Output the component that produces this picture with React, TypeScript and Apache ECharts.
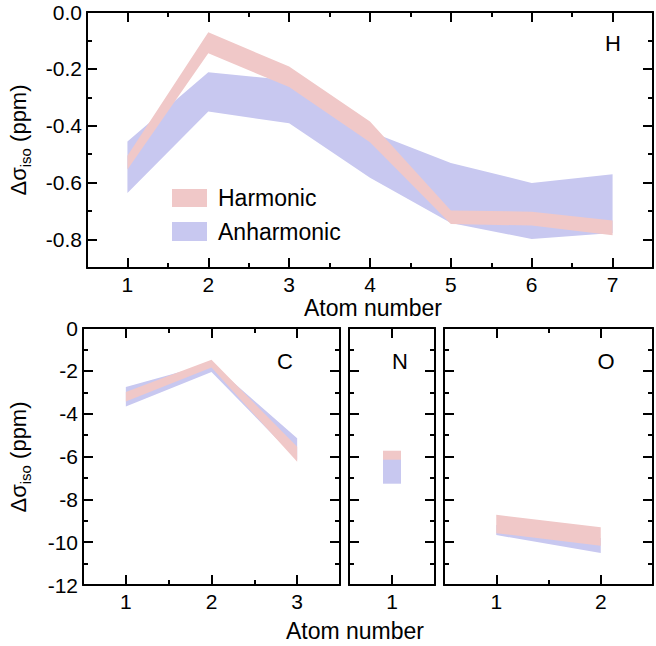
import React, { useEffect, useRef } from "react";
import * as echarts from "echarts";

// ---- data ----
const hAtoms = [1, 2, 3, 4, 5, 6, 7];
const hHarmHi = [-0.505, -0.071, -0.192, -0.385, -0.698, -0.702, -0.733];
const hHarmLo = [-0.554, -0.145, -0.264, -0.458, -0.745, -0.751, -0.785];
const hAnhHi = [-0.455, -0.212, -0.24, -0.42, -0.531, -0.601, -0.57];
const hAnhLo = [-0.636, -0.35, -0.391, -0.583, -0.742, -0.798, -0.777];

const cAtoms = [1, 2, 3];
const cHarmHi = [-2.99, -1.48, -5.55];
const cHarmLo = [-3.43, -1.85, -6.25];
const cAnhHi = [-2.76, -1.65, -5.15];
const cAnhLo = [-3.66, -2.05, -6.15];

const nAtoms = [1];
const nHarmHi = [-5.73];
const nHarmLo = [-6.15];
const nAnhHi = [-6.0];
const nAnhLo = [-7.27];

const oAtoms = [1, 2];
const oHarmHi = [-8.72, -9.3];
const oHarmLo = [-9.58, -10.17];
const oAnhHi = [-9.2, -9.8];
const oAnhLo = [-9.67, -10.51];

const seriesNames = ["Harmonic", "Anharmonic"];
const panelLabels = ["H", "C", "N", "O"];
const xTitle = "Atom number";

// ---- styles ----
const PINK = "#f0c8c8";
const BLUE = "#c8c8f0";
const FONT = '"Liberation Sans", Arial, sans-serif';
const SINGLE_HALF_WIDTH = 0.105;

function bandSeries(
  name: string,
  xs: number[],
  lo: number[],
  hi: number[],
  color: string,
  idx: number
) {
  return {
    type: "custom",
    name,
    xAxisIndex: idx * 2,
    yAxisIndex: idx * 2,
    clip: true,
    silent: true,
    data: xs.map((x, i) => [x, lo[i], hi[i]]),
    encode: { x: 0, y: [1, 2] },
    renderItem: (params: any, api: any) => {
      if (params.dataIndexInside !== 0) return null;
      let pts: number[][];
      if (xs.length === 1) {
        const x = xs[0];
        pts = [
          [x - SINGLE_HALF_WIDTH, hi[0]],
          [x + SINGLE_HALF_WIDTH, hi[0]],
          [x + SINGLE_HALF_WIDTH, lo[0]],
          [x - SINGLE_HALF_WIDTH, lo[0]],
        ].map((p) => api.coord(p));
      } else {
        const up = xs.map((x, i) => api.coord([x, hi[i]]));
        const dn = xs.map((x, i) => api.coord([x, lo[i]])).reverse();
        pts = up.concat(dn);
      }
      return {
        type: "polygon",
        shape: { points: pts },
        style: { fill: color },
      };
    },
  };
}

const lineStyle = { color: "#000", width: 2 };

function xAxes(gridIndex: number, min: number, max: number, split: number, minor: boolean) {
  const base = {
    type: "value",
    gridIndex,
    min,
    max,
    splitNumber: split,
    axisLine: { show: true, onZero: false, lineStyle },
    axisTick: { show: true, inside: true, length: 10, lineStyle },
    minorTick: { show: minor, splitNumber: 2, length: 5, lineStyle },
    splitLine: { show: false },
    minorSplitLine: { show: false },
  };
  return [
    {
      ...base,
      position: "bottom",
      axisLabel: {
        show: true,
        color: "#000",
        fontSize: 21,
        fontFamily: FONT,
        margin: 6,
        formatter: (v: number) => (Math.abs(v - Math.round(v)) < 1e-9 ? String(Math.round(v)) : ""),
      },
    },
    { ...base, position: "top", axisLabel: { show: false } },
  ];
}

function yAxes(
  gridIndex: number,
  min: number,
  max: number,
  split: number,
  labels: boolean,
  fmt: (v: number) => string
) {
  const base = {
    type: "value",
    gridIndex,
    min,
    max,
    splitNumber: split,
    axisLine: { show: true, onZero: false, lineStyle },
    axisTick: { show: true, inside: true, length: 10, lineStyle },
    minorTick: { show: true, splitNumber: 2, length: 5, lineStyle },
    splitLine: { show: false },
    minorSplitLine: { show: false },
  };
  return [
    {
      ...base,
      position: "left",
      axisLabel: {
        show: labels,
        color: "#000",
        fontSize: 21,
        fontFamily: FONT,
        margin: 5,
        formatter: fmt,
      },
    },
    { ...base, position: "right", axisLabel: { show: false } },
  ];
}

const fmtTop = (v: number) => {
  const k = Math.round(v / 0.2);
  return Math.abs(v - k * 0.2) < 1e-6 ? (Math.abs(v) < 1e-9 ? "0.0" : v.toFixed(1)) : "";
};
const fmtBottom = (v: number) => {
  const k = Math.round(v / 2);
  return Math.abs(v - k * 2) < 1e-6 ? String(Math.round(v)) : "";
};

function yTitle(x: number, y: number) {
  return {
    type: "text",
    x,
    y,
    rotation: Math.PI / 2,
    style: {
      text: "{a|Δσ}{s|iso}{a| (ppm)}",
      align: "center",
      verticalAlign: "middle",
      rich: {
        a: { fontSize: 22, fontFamily: FONT, fill: "#000", lineHeight: 30, verticalAlign: "middle" },
        s: { fontSize: 15, fontFamily: FONT, fill: "#000", verticalAlign: "bottom" },
      },
    },
  };
}

function plainText(text: string, x: number, y: number, size: number, align = "center") {
  return {
    type: "text",
    x,
    y,
    style: {
      text,
      fontSize: size,
      fontFamily: FONT,
      fill: "#000",
      align,
      verticalAlign: "middle",
    },
  };
}

export default function App() {
  const ref = useRef<HTMLDivElement>(null);
  useEffect(() => {
    if (!ref.current) return;
    const chart = echarts.init(ref.current, undefined, { renderer: "svg" });
    const option: any = {
      animation: false,
      backgroundColor: "#fff",
      grid: [
        { left: 87, top: 12, width: 571, height: 256 },
        { left: 83, top: 328, width: 257, height: 257 },
        { left: 349, top: 328, width: 86, height: 257 },
        { left: 444, top: 328, width: 210, height: 257 },
      ],
      xAxis: [
        ...xAxes(0, 0.5, 7.5, 7, true),
        ...xAxes(1, 0.5, 3.5, 3, true),
        ...xAxes(2, 0.5, 1.5, 1, false),
        ...xAxes(3, 0.5, 2.5, 2, true),
      ],
      yAxis: [
        ...yAxes(0, -0.9, 0, 5, true, fmtTop),
        ...yAxes(1, -12, 0, 6, true, fmtBottom),
        ...yAxes(2, -12, 0, 6, false, fmtBottom),
        ...yAxes(3, -12, 0, 6, false, fmtBottom),
      ],
      series: [
        bandSeries(seriesNames[1], hAtoms, hAnhLo, hAnhHi, BLUE, 0),
        bandSeries(seriesNames[0], hAtoms, hHarmLo, hHarmHi, PINK, 0),
        bandSeries(seriesNames[1], cAtoms, cAnhLo, cAnhHi, BLUE, 1),
        bandSeries(seriesNames[0], cAtoms, cHarmLo, cHarmHi, PINK, 1),
        bandSeries(seriesNames[1], nAtoms, nAnhLo, nAnhHi, BLUE, 2),
        bandSeries(seriesNames[0], nAtoms, nHarmLo, nHarmHi, PINK, 2),
        bandSeries(seriesNames[1], oAtoms, oAnhLo, oAnhHi, BLUE, 3),
        bandSeries(seriesNames[0], oAtoms, oHarmLo, oHarmHi, PINK, 3),
      ],
      graphic: [
        yTitle(18, 140),
        yTitle(18, 457),
        plainText(xTitle, 373, 308, 23),
        plainText(xTitle, 355, 631, 23),
        plainText(panelLabels[0], 613, 43, 22),
        plainText(panelLabels[1], 285, 361, 22),
        plainText(panelLabels[2], 400, 361, 22),
        plainText(panelLabels[3], 606, 361, 22),
        { type: "rect", shape: { x: 172, y: 189, width: 35, height: 18 }, style: { fill: PINK } },
        { type: "rect", shape: { x: 172, y: 222, width: 35, height: 19 }, style: { fill: BLUE } },
        plainText(seriesNames[0], 218, 198, 23, "left"),
        plainText(seriesNames[1], 218, 232, 23, "left"),
      ],
    };
    chart.setOption(option);
    return () => chart.dispose();
  }, []);
  return (
    <div
      ref={ref}
      style={{ position: "fixed", left: 0, top: 0, width: 656, height: 646, background: "#fff" }}
    />
  );
}
